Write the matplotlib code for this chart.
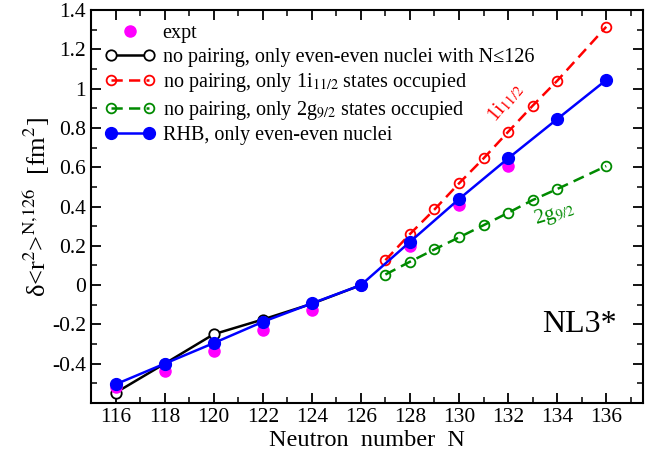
import numpy as np
import matplotlib
matplotlib.use('Agg')
import matplotlib.pyplot as plt
from matplotlib.ticker import MultipleLocator, FuncFormatter
from matplotlib.legend_handler import HandlerLine2D

plt.rcParams.update({
    'font.family': 'Liberation Serif',
    'mathtext.fontset': 'stix',
    'font.size': 15,
})

# data
n_expt = [116, 118, 120, 122, 124, 126, 128, 130, 132]
r_expt = [-0.52, -0.438, -0.334, -0.229, -0.127, 0.0, 0.199, 0.41, 0.607]

n_even = [116, 118, 120, 122, 124, 126]
r_even = [-0.548, -0.40, -0.25, -0.175, -0.095, 0.0]

n_odd = [127, 128, 129, 130, 131, 132, 133, 134, 136]
r_i11 = [0.127, 0.26, 0.385, 0.518, 0.645, 0.78, 0.913, 1.04, 1.315]
r_g9 = [0.054, 0.119, 0.182, 0.243, 0.305, 0.368, 0.433, 0.489, 0.606]

n_rhb = [116, 118, 120, 122, 124, 126, 128, 130, 132, 134, 136]
r_rhb = [-0.505, -0.40, -0.295, -0.187, -0.093, 0.0, 0.22, 0.438, 0.645, 0.845, 1.044]

fig = plt.figure(figsize=(6.52, 4.59), dpi=100)
ax = fig.add_axes([0.1396, 0.122, 0.8466, 0.856])

h_red, = ax.plot(n_odd, r_i11, '--o', color='red', lw=1.8, dashes=(4.5, 2.5),
                 ms=7, mfc='none', mew=1.3, zorder=2,
                 label=r'no pairing, only 1i$_{11/2}$ states occupied')
h_green, = ax.plot(n_odd, r_g9, '--o', color='#008a00', lw=1.8, dashes=(4.5, 2.5),
                   ms=7, mfc='none', mew=1.3, zorder=2,
                   label=r'no pairing, only 2g$_{9/2}$ states occupied')
h_black, = ax.plot(n_even, r_even, '-o', color='black', lw=1.8, ms=7.5,
                   mfc='white', mew=1.3, zorder=3,
                   label='no pairing, only even-even nuclei with N\u2264126')
h_expt, = ax.plot(n_expt, r_expt, 'o', color='#ff00ff', ms=8, ls='none',
                  zorder=4, label='expt')
h_blue, = ax.plot(n_rhb, r_rhb, '-o', color='#0000ff', lw=1.8, ms=8.5,
                  zorder=5, label='RHB, only even-even nuclei')

ax.legend(handles=[h_expt, h_black, h_red, h_green, h_blue],
          handler_map={h_expt: HandlerLine2D(numpoints=1)},
          loc='upper left', bbox_to_anchor=(0.0, 1.0), frameon=False,
          fontsize=14.5, handlelength=2.5, handletextpad=0.35,
          labelspacing=0.22, borderaxespad=0.3, numpoints=2)

ax.text(131.9, 0.93, r'1i$_{11/2}$', color='red', fontsize=15,
        rotation=50, ha='center', va='center')
ax.text(133.9, 0.36, r'2g$_{9/2}$', color='#008a00', fontsize=15,
        rotation=17, ha='center', va='center')
ax.text(134.9, -0.2, 'NL3*', fontsize=23, ha='center', va='center')

ax.set_xlim(115, 137.5)
ax.set_ylim(-0.6, 1.4)
ax.xaxis.set_major_locator(MultipleLocator(2))
ax.xaxis.set_minor_locator(MultipleLocator(1))
ax.yaxis.set_minor_locator(MultipleLocator(0.1))
ax.yaxis.set_major_formatter(FuncFormatter(lambda v, p: '%g' % round(v, 2)))
ax.set_yticks(np.arange(-0.4, 1.41, 0.2))
ax.tick_params(which='both', direction='in', top=True, right=True, labelsize=15.5)
ax.tick_params(which='major', length=7, width=1.3)
ax.tick_params(which='minor', length=4, width=1.1)
for s in ax.spines.values():
    s.set_linewidth(1.5)

ax.set_xlabel('Neutron  number  N', fontsize=17.5, labelpad=2)
ax.set_ylabel(r'δ<r$^2$>$^{\mathrm{N{,}126}}$  [fm$^2$]', fontsize=19, labelpad=0)

fig.savefig('out.png', dpi=100)
